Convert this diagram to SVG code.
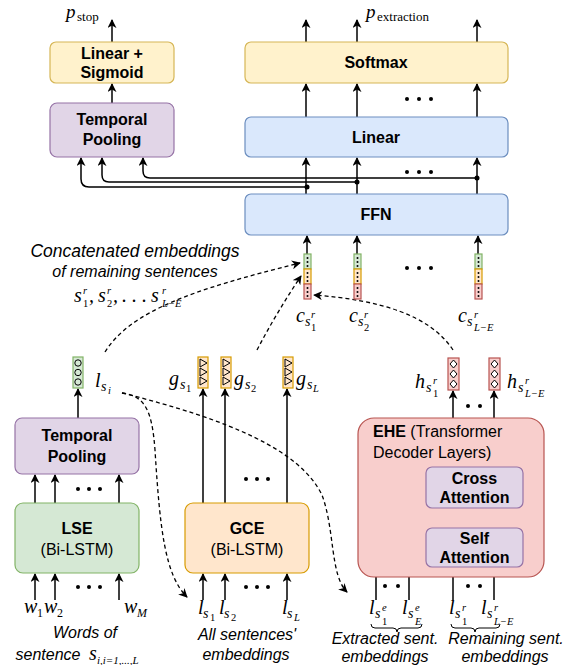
<svg xmlns="http://www.w3.org/2000/svg" width="570" height="665" viewBox="0 0 570 665">
<defs>
<marker id="ah" viewBox="0 0 10 10" refX="9" refY="5" markerWidth="9" markerHeight="9" markerUnits="userSpaceOnUse" orient="auto">
<path d="M0,0 L10,5 L0,10 L3,5 Z" fill="#000"/>
</marker>
<style>
.yel{fill:#fff2cc;stroke:#d6b656;stroke-width:1.2}
.pur{fill:#e1d5e7;stroke:#9673a6;stroke-width:1.2}
.blu{fill:#dae8fc;stroke:#6c8ebf;stroke-width:1.2}
.grn{fill:#d5e8d4;stroke:#82b366;stroke-width:1.2}
.org{fill:#ffe6cc;stroke:#d79b00;stroke-width:1.2}
.red{fill:#f8cecc;stroke:#b85450;stroke-width:1.2}
.b{font-family:"Liberation Sans",Arial,sans-serif;font-weight:bold;font-size:16px;text-anchor:middle;fill:#000}
.n{font-family:"Liberation Sans",Arial,sans-serif;font-size:16px;text-anchor:middle;fill:#000}
.cap{font-family:"Liberation Sans",Arial,sans-serif;font-style:italic;font-size:16px;text-anchor:middle;fill:#000}
.m{font-family:"Liberation Serif","Times New Roman",serif;font-style:italic;font-size:20px;fill:#000}
.ms{font-family:"Liberation Serif","Times New Roman",serif;font-style:italic;font-size:14px;fill:#000}
.mss{font-family:"Liberation Serif","Times New Roman",serif;font-style:italic;font-size:10.5px;fill:#000}
.mr{font-family:"Liberation Serif","Times New Roman",serif;font-size:10.5px;fill:#000}
.rs{font-family:"Liberation Serif","Times New Roman",serif;font-size:13px;fill:#000}
.ar{fill:none;stroke:#000;stroke-width:1.5;marker-end:url(#ah)}
.ln{fill:none;stroke:#000;stroke-width:1}
.ds{fill:none;stroke:#000;stroke-width:1.3;stroke-dasharray:4 3;marker-end:url(#ah)}
.dot{fill:#000}
.vin{fill:none;stroke:#000;stroke-width:1}
</style>
</defs>

<!-- connectors -->
<g id="connectors">
<path class="ar" d="M112,42 V20"/>
<path class="ar" d="M112,103 V84"/>
<path class="ar" d="M306,42 V20"/>
<path class="ar" d="M357,42 V20"/>
<path class="ar" d="M477,42 V20"/>
<path class="ar" d="M306,117 V84"/>
<path class="ar" d="M357,117 V84"/>
<path class="ar" d="M477,117 V84"/>
<path class="ar" d="M306,194 V158"/>
<path class="ar" d="M357,194 V158"/>
<path class="ar" d="M477,194 V158"/>
<path class="ar" d="M307,187 H89 Q81,187 81,179 V158"/>
<path class="ar" d="M357,182 H109 Q102,182 102,175 V158"/>
<path class="ar" d="M477,178 H150 Q143,178 143,171 V158"/>
<circle class="dot" cx="307" cy="187" r="2.5"/>
<circle class="dot" cx="357" cy="182" r="2.5"/>
<circle class="dot" cx="477" cy="178" r="2.5"/>
<path class="ar" d="M307,256 V236"/>
<path class="ar" d="M357,256 V236"/>
<path class="ar" d="M478,256 V236"/>
<path class="ar" d="M78,418 V389"/>
<path class="ar" d="M35,503 V475"/>
<path class="ar" d="M55,503 V475"/>
<path class="ar" d="M119,503 V475"/>
<path class="ar" d="M35,600 V574"/>
<path class="ar" d="M55,600 V574"/>
<path class="ar" d="M119,600 V574"/>
<path class="ar" d="M203,503 V389"/>
<path class="ar" d="M225,503 V389"/>
<path class="ar" d="M287,503 V389"/>
<path class="ar" d="M203,600 V574"/>
<path class="ar" d="M225,600 V574"/>
<path class="ar" d="M287,600 V574"/>
<path class="ar" d="M453,467 V391"/>
<path class="ar" d="M494,467 V391"/>
<path class="ar" d="M453,528 V509"/>
<path class="ar" d="M494,528 V509"/>
<path class="ar" d="M453,600 V568"/>
<path class="ar" d="M494,600 V568"/>
<path class="ar" d="M376,600 V487 Q376,480 383,480 H425"/>
<path class="ar" d="M409,600 V505 Q409,498 416,498 H425"/>
<path class="ds" d="M105,352 C130,312 190,290 300,263"/>
<path class="ds" d="M257,350 C270,325 285,300 301,276"/>
<path class="ds" d="M453,350 C430,315 380,300 314,295"/>
<path class="ds" d="M122,393 C145,396 152,410 155,450 C160,530 165,575 187,597"/>
<path class="ds" d="M122,393 C230,420 300,450 322,495 C335,530 330,575 347,592"/>
<g class="dot">
<circle cx="407" cy="99" r="2"/><circle cx="419" cy="99" r="2"/><circle cx="431" cy="99" r="2"/>
<circle cx="407" cy="172" r="2"/><circle cx="419" cy="172" r="2"/><circle cx="431" cy="172" r="2"/>
<circle cx="407" cy="268" r="2"/><circle cx="419" cy="268" r="2"/><circle cx="431" cy="268" r="2"/>
<circle cx="78" cy="489" r="2"/><circle cx="89" cy="489" r="2"/><circle cx="100" cy="489" r="2"/>
<circle cx="78" cy="587" r="2"/><circle cx="89" cy="587" r="2"/><circle cx="100" cy="587" r="2"/>
<circle cx="246" cy="479" r="2"/><circle cx="257" cy="479" r="2"/><circle cx="268" cy="479" r="2"/>
<circle cx="246" cy="587" r="2"/><circle cx="257" cy="587" r="2"/><circle cx="268" cy="587" r="2"/>
<circle cx="468" cy="406" r="2"/><circle cx="480" cy="406" r="2"/>
<circle cx="468" cy="517" r="2"/><circle cx="480" cy="517" r="2"/>
<circle cx="385" cy="586" r="2"/><circle cx="398" cy="586" r="2"/>
<circle cx="468" cy="586" r="2"/><circle cx="480" cy="586" r="2"/>
</g>
</g>

<g id="linear-sigmoid">
<rect class="yel" x="50" y="42" width="124" height="41" rx="6"/>
<text class="b" x="112" y="59">Linear +</text>
<text class="b" x="112" y="78">Sigmoid</text>
</g>
<g id="temporal-pooling-top">
<rect class="pur" x="50" y="103" width="124" height="54" rx="7"/>
<text class="b" x="112" y="125">Temporal</text>
<text class="b" x="112" y="145">Pooling</text>
</g>
<g id="p-stop">
<text class="m" x="66" y="18" style="font-size:19px">p</text><text class="rs" x="77" y="21">stop</text>
</g>

<g id="softmax">
<rect class="yel" x="245" y="42" width="263" height="41" rx="6"/>
<text class="b" x="376" y="68">Softmax</text>
</g>
<g id="linear">
<rect class="blu" x="245" y="117" width="263" height="40" rx="6"/>
<text class="b" x="376" y="143">Linear</text>
</g>
<g id="ffn">
<rect class="blu" x="245" y="194" width="263" height="41" rx="6"/>
<text class="b" x="376" y="220">FFN</text>
</g>
<g id="p-extraction">
<text class="m" x="366" y="18" style="font-size:19px">p</text><text class="rs" x="377" y="21">extraction</text>
</g>

<g id="c-vectors">
<g id="c1">
<rect class="grn" x="304" y="254" width="7" height="15"/>
<rect class="org" x="304" y="269" width="7" height="15"/>
<rect class="red" x="304" y="284" width="7" height="15"/>
</g>
<g id="c2">
<rect class="grn" x="354" y="254" width="7" height="15"/>
<rect class="org" x="354" y="269" width="7" height="15"/>
<rect class="red" x="354" y="284" width="7" height="15"/>
</g>
<g id="c3">
<rect class="grn" x="475" y="254" width="7" height="15"/>
<rect class="org" x="475" y="269" width="7" height="15"/>
<rect class="red" x="475" y="284" width="7" height="15"/>
</g>
<g class="dot">
<circle cx="307.5" cy="258" r="1"/><circle cx="307.5" cy="262" r="1"/><circle cx="307.5" cy="266" r="1"/>
<circle cx="307.5" cy="273" r="1"/><circle cx="307.5" cy="277" r="1"/><circle cx="307.5" cy="281" r="1"/>
<circle cx="307.5" cy="288" r="1"/><circle cx="307.5" cy="292" r="1"/><circle cx="307.5" cy="296" r="1"/>
<circle cx="357.5" cy="258" r="1"/><circle cx="357.5" cy="262" r="1"/><circle cx="357.5" cy="266" r="1"/>
<circle cx="357.5" cy="273" r="1"/><circle cx="357.5" cy="277" r="1"/><circle cx="357.5" cy="281" r="1"/>
<circle cx="357.5" cy="288" r="1"/><circle cx="357.5" cy="292" r="1"/><circle cx="357.5" cy="296" r="1"/>
<circle cx="478.5" cy="258" r="1"/><circle cx="478.5" cy="262" r="1"/><circle cx="478.5" cy="266" r="1"/>
<circle cx="478.5" cy="273" r="1"/><circle cx="478.5" cy="277" r="1"/><circle cx="478.5" cy="281" r="1"/>
<circle cx="478.5" cy="288" r="1"/><circle cx="478.5" cy="292" r="1"/><circle cx="478.5" cy="296" r="1"/>
</g>
<text class="m" x="296" y="322">c</text><text class="ms" x="305" y="326">s</text><text class="mss" x="311" y="318">r</text><text class="mr" x="311" y="331">1</text>
<text class="m" x="349" y="322">c</text><text class="ms" x="358" y="326">s</text><text class="mss" x="364" y="318">r</text><text class="mr" x="364" y="331">2</text>
<text class="m" x="458" y="322">c</text><text class="ms" x="467" y="326">s</text><text class="mss" x="474" y="318">r</text><text class="mss" x="474" y="331">L−E</text>
</g>

<g id="concat-caption">
<text class="cap" x="135" y="257" style="font-size:17.5px">Concatenated embeddings</text>
<text class="cap" x="135" y="277">of remaining sentences</text>
<text class="m" x="74" y="302">s</text><text class="mss" x="83" y="294">r</text><text class="mr" x="83" y="307">1</text><text class="m" x="89" y="302">,</text>
<text class="m" x="98" y="302">s</text><text class="mss" x="107" y="294">r</text><text class="mr" x="107" y="307">2</text><text class="m" x="113" y="302">,</text>
<text class="m" x="122" y="302">. . .</text>
<text class="m" x="151" y="302">s</text><text class="mss" x="162" y="294">r</text><text class="mss" x="162" y="307">L−E</text>
</g>

<g id="l-si">
<rect class="grn" x="73" y="357" width="10" height="31"/>
<circle class="vin" cx="78" cy="363" r="3.2" fill="#fff"/>
<circle class="vin" cx="78" cy="372.5" r="3.2" fill="#fff"/>
<circle class="vin" cx="78" cy="382" r="3.2" fill="#fff"/>
<text class="m" x="95" y="387">l</text><text class="ms" x="101" y="391">s</text><text class="mss" x="108" y="394">i</text>
</g>

<g id="g-vectors">
<rect class="org" x="198" y="357" width="10" height="31"/>
<rect class="org" x="221" y="357" width="10" height="31"/>
<rect class="org" x="283" y="357" width="10" height="31"/>
<g class="vin">
<path d="M200,359 L207,363 L200,367 Z M200,368 L207,372 L200,376 Z M200,377 L207,381 L200,385 Z"/>
<path d="M223,359 L230,363 L223,367 Z M223,368 L230,372 L223,376 Z M223,377 L230,381 L223,385 Z"/>
<path d="M285,359 L292,363 L285,367 Z M285,368 L292,372 L285,376 Z M285,377 L292,381 L285,385 Z"/>
</g>
<text class="m" x="169" y="385">g</text><text class="ms" x="180" y="389">s</text><text class="mr" x="186" y="392">1</text>
<text class="m" x="234" y="385">g</text><text class="ms" x="245" y="389">s</text><text class="mr" x="251" y="392">2</text>
<text class="m" x="296" y="385">g</text><text class="ms" x="307" y="389">s</text><text class="mss" x="313" y="392">L</text>
</g>

<g id="h-vectors">
<rect class="red" x="448" y="358" width="11" height="32"/>
<rect class="red" x="489" y="358" width="11" height="32"/>
<g class="vin">
<path d="M453.5,360 L457,364 L453.5,368 L450,364 Z M453.5,370 L457,374 L453.5,378 L450,374 Z M453.5,380 L457,384 L453.5,388 L450,384 Z" fill="#fff"/>
<path d="M494.5,360 L498,364 L494.5,368 L491,364 Z M494.5,370 L498,374 L494.5,378 L491,374 Z M494.5,380 L498,384 L494.5,388 L491,384 Z" fill="#fff"/>
</g>
<text class="m" x="415" y="388">h</text><text class="ms" x="426" y="392">s</text><text class="mss" x="433" y="384">r</text><text class="mr" x="433" y="397">1</text>
<text class="m" x="507" y="388">h</text><text class="ms" x="518" y="392">s</text><text class="mss" x="525" y="384">r</text><text class="mss" x="525" y="397">L−E</text>
</g>

<g id="temporal-pooling-bottom">
<rect class="pur" x="15" y="418" width="124" height="56" rx="7"/>
<text class="b" x="77" y="441">Temporal</text>
<text class="b" x="77" y="462">Pooling</text>
</g>
<g id="lse">
<rect class="grn" x="15" y="503" width="124" height="70" rx="8"/>
<text class="b" x="77" y="534">LSE</text>
<text class="n" x="77" y="555">(Bi-LSTM)</text>
</g>
<g id="words">
<text class="m" x="24" y="613">w</text><text class="mr" x="37" y="617" style="font-size:12px">1</text>
<text class="m" x="44" y="613">w</text><text class="mr" x="57" y="617" style="font-size:12px">2</text>
<text class="m" x="124" y="613">w</text><text class="ms" x="137" y="617" style="font-size:12px">M</text>
<text class="cap" x="85" y="638">Words of</text>
<text class="cap" x="48" y="660">sentence</text>
<text class="m" x="89" y="660">s</text><text class="ms" x="97" y="664" style="font-size:11px">i,i=1,...,L</text>
</g>

<g id="gce">
<rect class="org" x="185" y="503" width="124" height="70" rx="8"/>
<text class="b" x="247" y="534">GCE</text>
<text class="n" x="247" y="555">(Bi-LSTM)</text>
</g>
<g id="all-sent">
<text class="m" x="198" y="614">l</text><text class="ms" x="203" y="618">s</text><text class="mr" x="210" y="621">1</text>
<text class="m" x="219" y="614">l</text><text class="ms" x="224" y="618">s</text><text class="mr" x="231" y="621">2</text>
<text class="m" x="282" y="614">l</text><text class="ms" x="287" y="618">s</text><text class="mss" x="294" y="621">L</text>
<text class="cap" x="247" y="640">All sentences'</text>
<text class="cap" x="246" y="660">embeddings</text>
</g>

<g id="ehe">
<rect class="red" x="358" y="418" width="186" height="159" rx="16"/>
<text class="n" x="373" y="437" style="text-anchor:start"><tspan font-weight="bold">EHE</tspan> (Transformer</text>
<text class="n" x="373" y="458" style="text-anchor:start">Decoder Layers)</text>
</g>
<g id="cross-attention">
<rect class="pur" x="426" y="467" width="97" height="41" rx="6"/>
<text class="b" x="474.5" y="484">Cross</text>
<text class="b" x="474.5" y="503">Attention</text>
</g>
<g id="self-attention">
<rect class="pur" x="426" y="528" width="97" height="39" rx="6"/>
<text class="b" x="474.5" y="544">Self</text>
<text class="b" x="474.5" y="563">Attention</text>
</g>
<g id="ehe-inputs">
<text class="m" x="369" y="614">l</text><text class="ms" x="375" y="618">s</text><text class="mss" x="382" y="611">e</text><text class="mr" x="382" y="625">1</text>
<text class="m" x="402" y="614">l</text><text class="ms" x="408" y="618">s</text><text class="mss" x="415" y="611">e</text><text class="mss" x="415" y="625">E</text>
<text class="m" x="449" y="614">l</text><text class="ms" x="455" y="618">s</text><text class="mss" x="462" y="611">r</text><text class="mr" x="462" y="625">1</text>
<text class="m" x="481" y="614">l</text><text class="ms" x="487" y="618">s</text><text class="mss" x="494" y="611">r</text><text class="mss" x="494" y="625">L−E</text>
<path class="ln" d="M371,624 Q371,628 375,628 H393 Q397,628 397,632 Q397,628 401,628 H418 Q422,628 422,624"/>
<path class="ln" d="M451,624 Q451,628 455,628 H471 Q475,628 475,632 Q475,628 479,628 H496 Q500,628 500,624"/>
<text class="cap" x="385" y="644">Extracted sent.</text>
<text class="cap" x="385" y="662">embeddings</text>
<text class="cap" x="506" y="644">Remaining sent.</text>
<text class="cap" x="505" y="662">embeddings</text>
</g>
</svg>
